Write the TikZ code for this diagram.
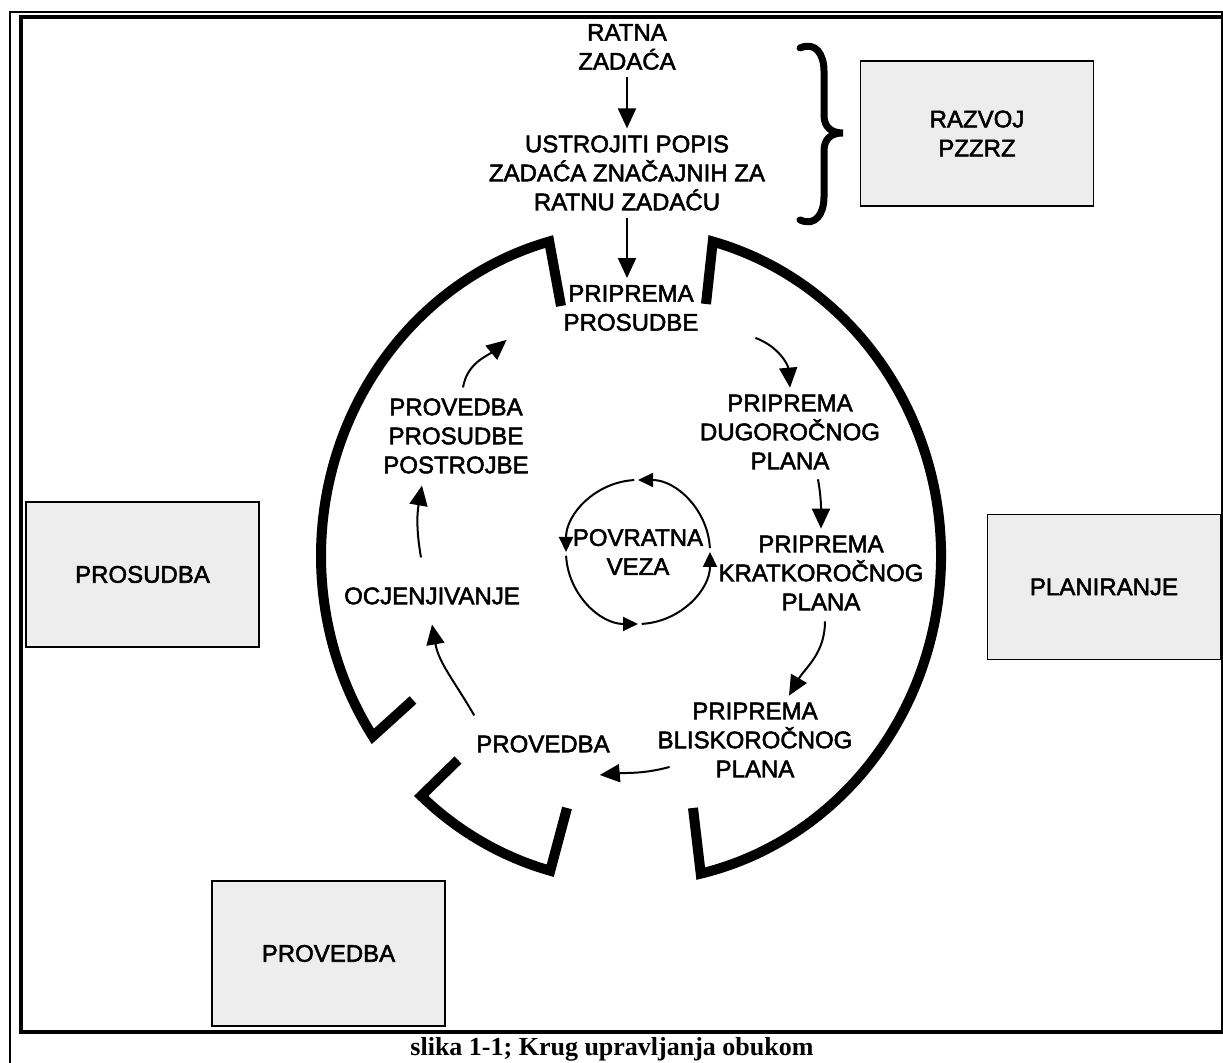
\documentclass[tikz,border=0pt]{standalone}
\usepackage{fontspec}
\setmainfont{Liberation Sans}[FakeBold=2.2]
\newfontfamily\capfont{Liberation Serif}
\usetikzlibrary{arrows.meta}

\begin{document}
\begin{tikzpicture}[x=0.5pt,y=0.5pt,font=\fontsize{12}{14.5}\selectfont,
    panel/.style={draw,line width=0.75pt,fill=gray!14,align=center,minimum width=116.5pt,minimum height=72.5pt},
    rim/.style={line width=5pt},
    flow/.style={line width=1pt,-{Triangle[length=10pt,width=9pt]}},
    fb/.style={line width=1pt,-{Triangle[length=7.5pt,width=7pt]}}]
    \useasboundingbox (0,0) rectangle (1223,1063);
    \fill[white] (0,0) rectangle (1223,1063);
    \draw[line width=0.75pt] (10,0) -- (10,1051) -- (1223,1051);
    \draw[line width=0.75pt] (1222,1051) -- (1222,31);
    \draw[line width=2pt] (1223,1046) -- (21,1046) -- (21,31) -- (1223,31);
    \node[font=\capfont\bfseries\fontsize{13}{14}\selectfont] (caption) at (612,14) {slika 1-1; Krug upravljanja obukom};
    \node[panel] (razvoj) at (977,929.5) {RAZVOJ\\PZZRZ};
    \node[panel] (prosudba) at (142.5,488.5) {PROSUDBA};
    \node[panel] (planiranje) at (1104,476) {PLANIRANJE};
    \node[panel] (provedba) at (328.5,109.5) {PROVEDBA};
    \draw[line width=3.5pt,line cap=round] (800,1015) .. controls (816,1022) and (824,1008) .. (824,992) -- (824,948) .. controls (824,936) and (831,930) .. (843,930) .. controls (831,930) and (824,924) .. (824,912) -- (824,866) .. controls (824,850) and (816,836) .. (800,843);
    \node[align=center] (ratna) at (627,1016) {RATNA\\ZADAĆA};
    \node[align=center] (popis) at (627,890) {USTROJITI POPIS\\ZADAĆA ZNAČAJNIH ZA\\RATNU ZADAĆU};
    \node[align=center] (pp) at (631,755) {PRIPREMA\\PROSUDBE};
    \draw[flow] (ratna) -- (popis);
    \draw[flow] (popis.south) -- (popis.south |- pp.north);
    \draw[rim] (561,757) -- ([shift={(631,507)}]105.3:310 and 326) arc[start angle=105.3,end angle=213.6,x radius=310,y radius=326] -- (413,363);
    \draw[rim] (458,303) -- ([shift={(631,507)}]227.4:310 and 326) arc[start angle=227.4,end angle=254.9,x radius=310,y radius=326] -- (567,255);
    \draw[rim] (706,759) -- ([shift={(631,507)}]74.7:310 and 326) arc[start angle=74.7,end angle=-77,x radius=310,y radius=326] -- (693,255);
    \node[align=center] (pd) at (790,631) {PRIPREMA\\DUGOROČNOG\\PLANA};
    \node[align=center] (pk) at (821,490) {PRIPREMA\\KRATKOROČNOG\\PLANA};
    \node[align=center] (pb) at (755,323) {PRIPREMA\\BLISKOROČNOG\\PLANA};
    \node (prov) at (543,319) {PROVEDBA};
    \node (ocj) at (432,467) {OCJENJIVANJE};
    \node[align=center] (pps) at (456,627) {PROVEDBA\\PROSUDBE\\POSTROJBE};
    \node[align=center] (veza) at (638,511) {POVRATNA\\VEZA};
    \draw[flow] ([xshift=25pt]pp.south east) to[out=-20,in=95] (pd.north);
    \draw[flow] ([xshift=14pt,yshift=-1.5pt]pd.south) to[out=-80,in=90] (pk.north);
    \draw[flow] ([xshift=2pt,yshift=-2pt]pk.south) to[out=-90,in=60] ([xshift=17pt]pb.north);
    \draw[flow] ([xshift=9.5pt,yshift=-13.5pt]pb.west) to[out=195,in=5] ([xshift=-8.5pt,yshift=-15.5pt]prov.east);
    \draw[flow] ([xshift=2.5pt,yshift=6.5pt]prov.north west) to[out=120,in=-80] ([yshift=-6.5pt]ocj.south);
    \draw[flow] ([xshift=-5.5pt,yshift=11.5pt]ocj.north) to[out=100,in=-100] ([xshift=-17pt,yshift=-2.5pt]pps.south);
    \draw[flow] ([xshift=3.5pt,yshift=2pt]pps.north) to[out=80,in=220] ([xshift=-25pt,yshift=-1pt]pp.south west);
    \foreach \a in {0,90,180,270}
        \draw[fb] ([shift={(\a+3:72)}]veza.center) arc[start angle=\a+3,end angle=\a+90,radius=72];
\end{tikzpicture}
\end{document}
